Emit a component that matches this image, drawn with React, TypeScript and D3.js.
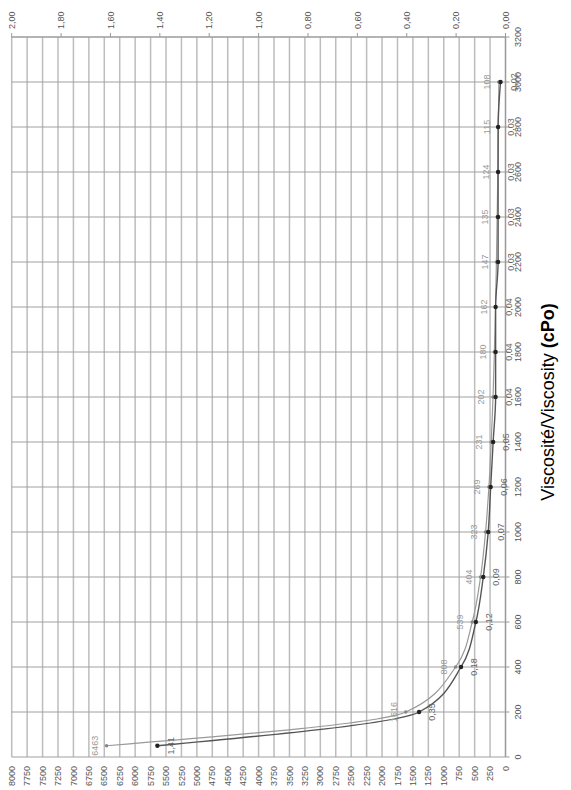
import React from "react";
import * as d3 from "d3";

const speeds = [50, 200, 400, 600, 800, 1000, 1200, 1400, 1600, 1800, 2000, 2200, 2400, 2600, 2800, 3000];
const viscosity = [6463, 1616, 808, 539, 404, 323, 269, 231, 202, 180, 162, 147, 135, 124, 115, 108];
const secondaryValues = [1.41, 0.35, 0.18, 0.12, 0.09, 0.07, 0.06, 0.05, 0.04, 0.04, 0.04, 0.03, 0.03, 0.03, 0.03, 0.02];
const xTicks = d3.range(0, 3201, 200);
const yTicks = d3.range(0, 8001, 250);
const y2Ticks = d3.range(0, 11).map((i) => i * 0.2);

const W = 571;
const H = 790;
const FONT = "'Liberation Sans', Arial, sans-serif";

export default function App() {
  // drawn in an unrotated frame of size H x W, then rotated -90deg
  const x = d3.scaleLinear().domain([0, 3200]).range([33, 753]);
  const y = d3.scaleLinear().domain([0, 8000]).range([505.5, 11.7]);
  const y2 = d3.scaleLinear().domain([0, 2]).range([505.5, 11.7]);
  const fmt2 = (v: number) => d3.format(".2f")(v).replace(".", ",");

  const line1 = d3
    .line<number>()
    .x((_, i) => x(speeds[i]))
    .y((d) => y(d))
    .curve(d3.curveMonotoneX);
  const line2 = d3
    .line<number>()
    .x((_, i) => x(speeds[i]))
    .y((d) => y2(d))
    .curve(d3.curveMonotoneX);

  const [x0, x1] = x.range();
  const [yb, yt] = y.range();

  return (
    <svg
      width={W}
      height={H}
      style={{ position: "absolute", left: 0, top: 0, background: "#fff" }}
      fontFamily={FONT}
    >
      <g transform={`translate(0, ${H}) rotate(-90)`}>
        {/* horizontal gridlines (primary) */}
        {yTicks.map((t) => (
          <line key={"gy" + t} x1={x0} x2={x1} y1={y(t)} y2={y(t)} stroke="#bdbdbd" strokeWidth={1.5} />
        ))}
        {/* vertical gridlines (x) */}
        {xTicks.map((t) => (
          <line key={"gx" + t} x1={x(t)} x2={x(t)} y1={yb} y2={yt} stroke="#a0a0a0" strokeWidth={1} />
        ))}
        {/* axes */}
        <line x1={x0} x2={x1} y1={yb} y2={yb} stroke="#999" strokeWidth={1.2} />
        <line x1={x1} x2={x1} y1={yb} y2={yt} stroke="#999" strokeWidth={1} />
        {y2Ticks.map((t) => (
          <line key={"t2" + t} x1={x1} x2={x1 + 4} y1={y2(t)} y2={y2(t)} stroke="#999" strokeWidth={1} />
        ))}
        {xTicks.map((t) => (
          <line key={"tx" + t} x1={x(t)} x2={x(t)} y1={yb} y2={yb + 4} stroke="#999" strokeWidth={1} />
        ))}

        {/* primary tick labels */}
        {yTicks.map((t) => (
          <text key={"ly" + t} x={24} y={y(t)} dy="0.35em" textAnchor="end" fontSize={9} fill="#555">
            {t}
          </text>
        ))}
        {/* secondary tick labels */}
        {y2Ticks.map((t) => (
          <text key={"ly2" + t} x={761} y={y2(t)} dy="0.35em" textAnchor="start" fontSize={9} fill="#555">
            {fmt2(t)}
          </text>
        ))}
        {/* x tick labels */}
        {xTicks.map((t) => (
          <text key={"lx" + t} x={x(t)} y={518} dy="0.35em" textAnchor="middle" fontSize={9} fill="#555">
            {t}
          </text>
        ))}

        {/* series */}
        <path d={line1(viscosity) || ""} fill="none" stroke="#999" strokeWidth={1.2} />
        <path d={line2(secondaryValues) || ""} fill="none" stroke="#555" strokeWidth={1.4} />
        {viscosity.map((v, i) => (
          <circle key={"m1" + i} cx={x(speeds[i])} cy={y(v)} r={1.8} fill="#888" />
        ))}
        {secondaryValues.map((v, i) => (
          <circle key={"m2" + i} cx={x(speeds[i])} cy={y2(v)} r={2.2} fill="#222" />
        ))}
        {viscosity.map((v, i) => (
          <text key={"d1" + i} x={x(speeds[i])} y={y(v) - 12} dy="0.35em" textAnchor="middle" fontSize={9} fill="#9a9a9a">
            {v}
          </text>
        ))}
        {secondaryValues.map((v, i) => (
          <text key={"d2" + i} x={x(speeds[i])} y={y2(v) + 13} dy="0.35em" textAnchor="middle" fontSize={9} fill="#666">
            {fmt2(v)}
          </text>
        ))}

        {/* axis title */}
        <text x={388} y={548} dy="0.35em" textAnchor="middle" fontSize={18} fill="#000">
          <tspan>Viscosité/Viscosity </tspan>
          <tspan fontWeight="bold">(cPo)</tspan>
        </text>
      </g>
    </svg>
  );
}
